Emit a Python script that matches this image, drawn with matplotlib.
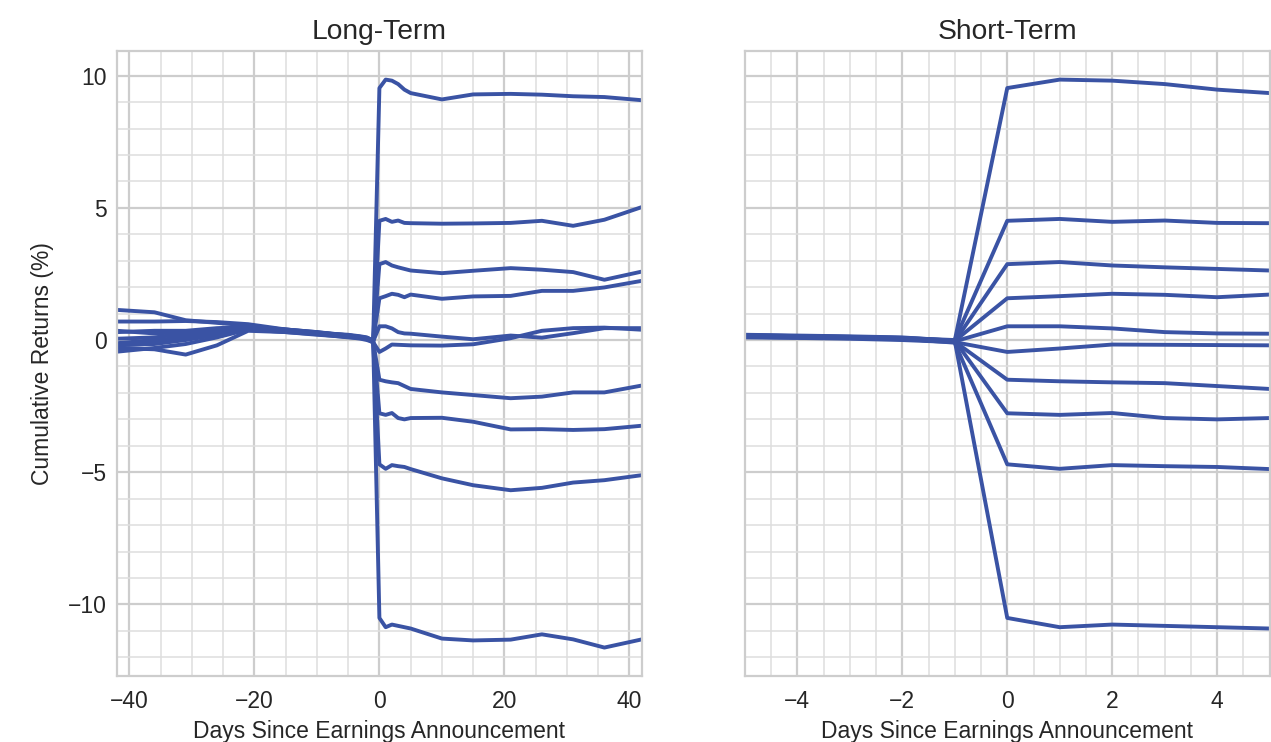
import matplotlib
matplotlib.use("Agg")
from matplotlib import pyplot as plt
from matplotlib.ticker import MultipleLocator

# trading days relative to the announcement
days = [-42, -36, -31, -26, -21, -15, -10, -5, -4, -3, -2, -1,
        0, 1, 2, 3, 4, 5, 10, 15, 21, 26, 31, 36, 42]

# cumulative returns (%) for each group, one list per line
r1 = [1.14, 1.05, 0.75, 0.65, 0.55, 0.35, 0.25, 0.15, 0.12, 0.10, 0.05, -0.02,
      9.53, 9.85, 9.81, 9.68, 9.47, 9.34, 9.10, 9.29, 9.31, 9.28, 9.22, 9.19, 9.07]
r2 = [0.70, 0.70, 0.72, 0.68, 0.60, 0.40, 0.30, 0.18, 0.15, 0.12, 0.08, 0.00,
      4.51, 4.58, 4.47, 4.52, 4.43, 4.42, 4.40, 4.41, 4.43, 4.51, 4.32, 4.55, 5.03]
r3 = [0.35, 0.25, 0.30, 0.40, 0.45, 0.35, 0.25, 0.12, 0.10, 0.08, 0.05, -0.05,
      2.87, 2.95, 2.82, 2.75, 2.69, 2.63, 2.53, 2.62, 2.72, 2.66, 2.57, 2.28, 2.59]
r4 = [-0.12, 0.00, 0.10, 0.30, 0.50, 0.40, 0.30, 0.15, 0.12, 0.10, 0.05, -0.03,
      1.58, 1.66, 1.75, 1.71, 1.62, 1.72, 1.56, 1.65, 1.67, 1.86, 1.86, 1.99, 2.24]
r5 = [-0.20, -0.15, 0.00, 0.20, 0.45, 0.35, 0.28, 0.15, 0.13, 0.10, 0.06, -0.05,
      0.52, 0.52, 0.44, 0.30, 0.25, 0.24, 0.13, 0.03, 0.17, 0.09, 0.26, 0.45, 0.45]
r6 = [-0.30, -0.35, -0.55, -0.20, 0.35, 0.30, 0.22, 0.10, 0.08, 0.05, 0.00, -0.08,
      -0.45, -0.32, -0.17, -0.18, -0.19, -0.20, -0.21, -0.16, 0.07, 0.35, 0.45, 0.47, 0.39]
r7 = [-0.44, -0.30, -0.15, 0.10, 0.40, 0.30, 0.20, 0.12, 0.10, 0.07, 0.03, -0.06,
      -1.50, -1.56, -1.60, -1.63, -1.74, -1.85, -1.98, -2.08, -2.20, -2.14, -1.98, -1.98, -1.72]
r8 = [0.30, 0.35, 0.35, 0.45, 0.50, 0.40, 0.28, 0.18, 0.15, 0.12, 0.08, -0.02,
      -2.77, -2.83, -2.76, -2.95, -3.00, -2.95, -2.94, -3.09, -3.38, -3.37, -3.40, -3.37, -3.24]
r9 = [-0.15, -0.10, 0.20, 0.40, 0.45, 0.35, 0.25, 0.13, 0.11, 0.09, 0.05, -0.10,
      -4.70, -4.87, -4.73, -4.77, -4.80, -4.88, -5.23, -5.49, -5.68, -5.59, -5.39, -5.30, -5.11]
r10 = [0.05, 0.10, 0.25, 0.35, 0.55, 0.38, 0.27, 0.20, 0.17, 0.14, 0.10, -0.03,
       -10.51, -10.86, -10.76, -10.81, -10.86, -10.91, -11.29, -11.36, -11.33, -11.13, -11.32, -11.63, -11.32]

series = [r1, r2, r3, r4, r5, r6, r7, r8, r9, r10]
titles = ["Long-Term", "Short-Term"]
xlims = [(-42, 42), (-5, 5)]
major_x = [20, 2]
minor_x = [5, 0.5]

plt.rcParams["font.family"] = ["Liberation Sans", "DejaVu Sans"]
plt.rcParams["text.color"] = "#262626"
plt.rcParams["axes.labelcolor"] = "#262626"
plt.rcParams["xtick.color"] = "#262626"
plt.rcParams["ytick.color"] = "#262626"

fig, axes = plt.subplots(1, 2, figsize=(12.71, 7.42), dpi=100, sharey=True)
fig.subplots_adjust(left=0.092, right=0.999, bottom=0.089, top=0.931, wspace=0.196)

line_colour = "#3a53a4"

for ax, title, xl, mj, mn in zip(axes, titles, xlims, major_x, minor_x):
    for s in series:
        ax.plot(days, s, color=line_colour, lw=2.8)
    ax.set_xlim(*xl)
    ax.set_title(title, fontsize=20.3, pad=9)
    ax.set_xlabel("Days Since Earnings Announcement", fontsize=16.5, labelpad=5)
    ax.xaxis.set_major_locator(MultipleLocator(mj))
    ax.xaxis.set_minor_locator(MultipleLocator(mn))
    ax.yaxis.set_major_locator(MultipleLocator(5))
    ax.yaxis.set_minor_locator(MultipleLocator(1))
    ax.grid(which="major", color="#cdcdcd", lw=1.6)
    ax.grid(which="minor", color="#dedede", lw=1.1)
    ax.set_axisbelow(True)
    ax.tick_params(which="both", length=0, labelsize=16.5)
    ax.tick_params(axis="x", pad=10)
    ax.tick_params(axis="y", pad=7)
    for sp in ax.spines.values():
        sp.set_color("#cdcdcd")
        sp.set_linewidth(1.6)

axes[0].set_ylabel("Cumulative Returns (%)", fontsize=16.5, labelpad=10)
axes[1].tick_params(labelleft=False)

fig.savefig("out.png", dpi=100)
plt.close()
